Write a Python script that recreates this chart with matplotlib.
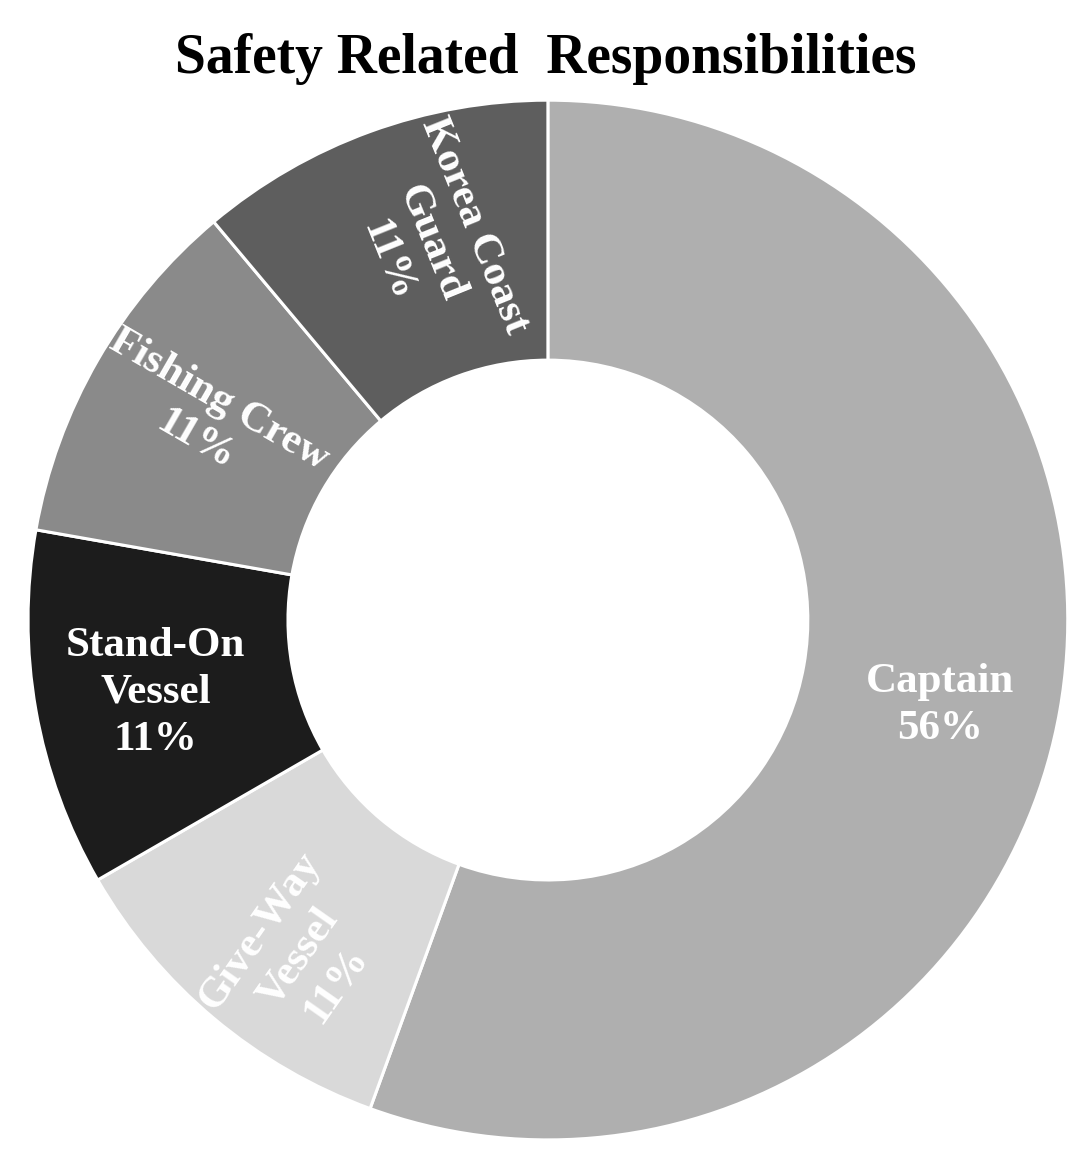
import matplotlib.pyplot as plt

categories = ["Captain", "Give-Way\nVessel", "Stand-On\nVessel", "Fishing Crew", "Korea Coast\nGuard"]
counts = [5, 1, 1, 1, 1]
pct_labels = ["56%", "11%", "11%", "11%", "11%"]
colors = ["#afafaf", "#d9d9d9", "#1c1c1c", "#8a8a8a", "#5e5e5e"]

# label placement (data coords) and rotation, picked by hand
label_pos = [(0.755, -0.165), (-0.48, -0.65), (-0.755, -0.14), (-0.655, 0.385), (-0.225, 0.725)]
label_rot = [0, 55, 0, -30, -68]

plt.rcParams["font.family"] = ["Liberation Serif", "DejaVu Serif"]

fig = plt.figure(figsize=(10.91, 11.71), dpi=100)
ax = fig.add_axes([0.0257, 0.0265, 0.953, 0.888])

ax.pie(counts, colors=colors, startangle=90, counterclock=False, radius=1.0,
       wedgeprops=dict(width=0.5, edgecolor="white", linewidth=2.2))

for name, pct, (x, y), rot in zip(categories, pct_labels, label_pos, label_rot):
    ax.text(x, y, name + "\n" + pct, ha="center", va="center", rotation=rot,
            rotation_mode="anchor", color="white", fontsize=31, fontweight="bold",
            linespacing=1.3)

ax.set_xlim(-1, 1)
ax.set_ylim(-1, 1)
ax.set_aspect("equal")
ax.axis("off")

fig.text(0.5, 0.95, "Safety Related  Responsibilities", ha="center", va="center",
         fontsize=40, fontweight="bold")

fig.savefig("out.png", dpi=100)
